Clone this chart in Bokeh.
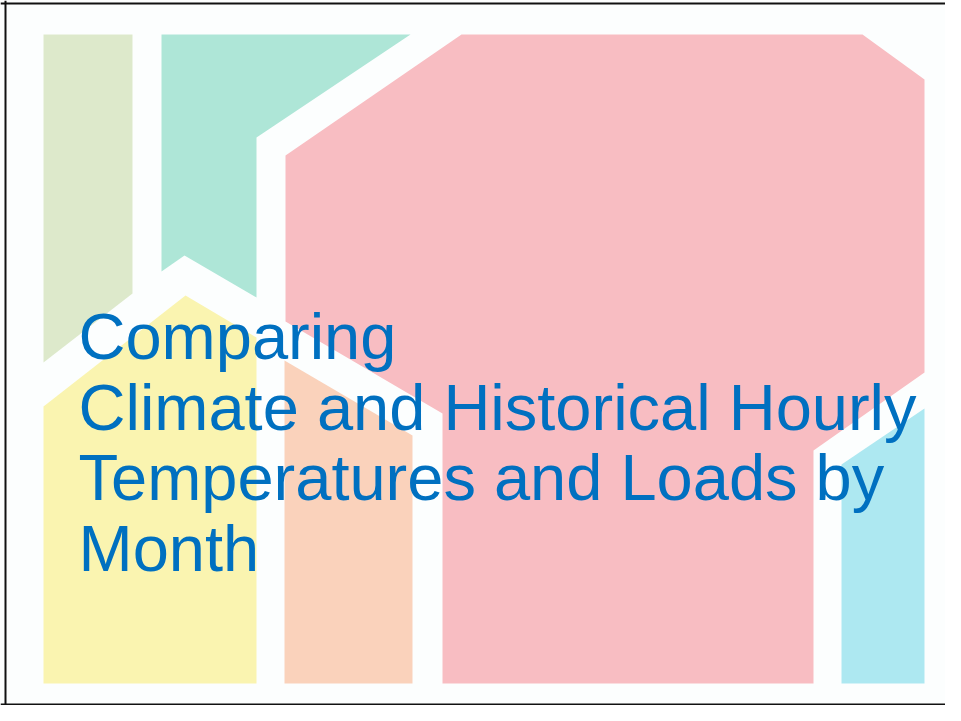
from bokeh.plotting import figure
from bokeh.models import Range1d, Span
from bokeh.core.properties import value
from bokeh.embed import file_html
from bokeh.resources import INLINE

# Decorative slide shapes, in slide pixel coordinates (y grows downward)
shape_names = ["sage", "teal", "pink", "yellow", "peach", "cyan"]
sage_x = [43, 132, 132, 43]
sage_y = [34, 34, 293, 362]
teal_x = [161, 410, 256, 256, 184, 161]
teal_y = [34, 34, 137, 297, 255, 271]
pink_x = [285, 461, 862, 924, 924, 813, 813, 442, 442, 285]
pink_y = [155, 34, 34, 79, 372, 450, 683, 683, 413, 321]
yellow_x = [43, 185, 256, 256, 43]
yellow_y = [406, 295, 337, 683, 683]
peach_x = [284, 412, 412, 284]
peach_y = [360, 435, 683, 683]
cyan_x = [841, 924, 924, 841]
cyan_y = [464, 408, 683, 683]
shape_colors = ["#dde9cb", "#aee6d7", "#f8bdc2", "#faf4b0", "#fad2bb", "#ade8f1"]

# Title text (one entry per line; y = vertical centre of each line)
title_lines = ["Comparing",
               "Climate and Historical Hourly",
               "Temperatures and Loads by",
               "Month"]
title_x = [78, 78, 78, 78]
title_y = [336, 407, 477, 548]

p = figure(width=945, height=705,
           x_range=Range1d(0, 945), y_range=Range1d(705, 0),
           output_backend="svg", toolbar_location=None,
           x_axis_location=None, y_axis_location=None,
           min_border=0)
p.grid.visible = False
p.outline_line_color = None
p.background_fill_color = "#fcfefe"
p.border_fill_color = "#fcfefe"

p.patches(xs=[sage_x, teal_x, pink_x, yellow_x, peach_x, cyan_x],
          ys=[sage_y, teal_y, pink_y, yellow_y, peach_y, cyan_y],
          fill_color=shape_colors, line_color=None)

p.text(x=title_x, y=title_y, text=title_lines,
       text_font=value("Liberation Sans"), text_font_size=value("65px"),
       text_color="#0070c0", text_baseline="middle", text_align="left")

# slide frame (left, top, bottom)
p.add_layout(Span(location=5, dimension="height", line_color="#111111", line_width=2))
p.add_layout(Span(location=3, dimension="width", line_color="#111111", line_width=2))
p.add_layout(Span(location=704, dimension="width", line_color="#111111", line_width=2))

open("out.html", "w").write(file_html(p, INLINE))
